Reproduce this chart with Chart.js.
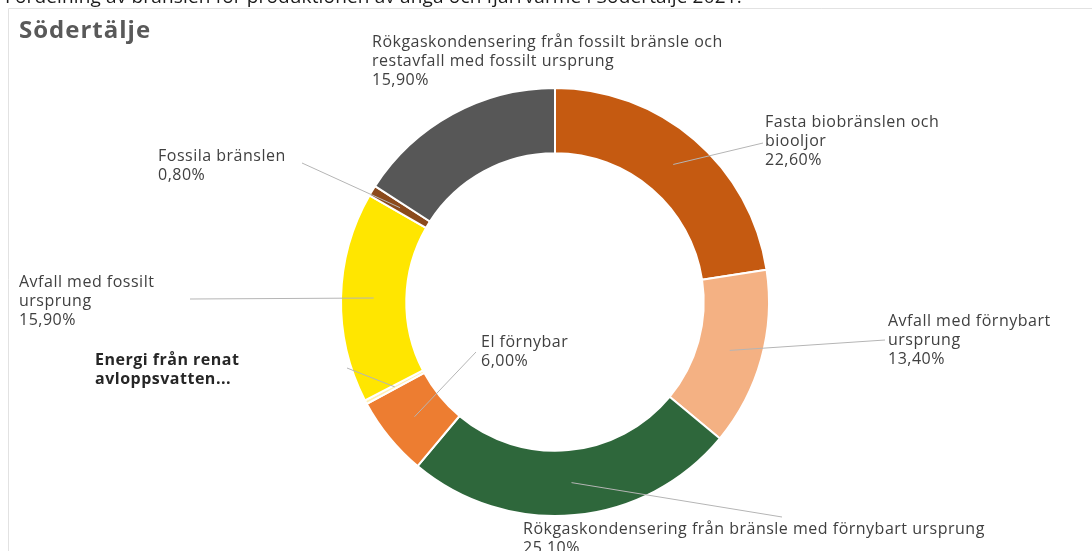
<!DOCTYPE html>
<html>
<head>
<meta charset="utf-8">
<script src="https://cdn.jsdelivr.net/npm/chart.js@4.4.0/dist/chart.umd.min.js"></script>
<style>
html,body{margin:0;padding:0;background:#fff;}
#wrap{position:relative;width:1092px;height:551px;overflow:hidden;}
canvas{display:block;}
</style>
</head>
<body>
<div id="wrap"><canvas id="c" width="1092" height="551"></canvas></div>
<script>
// ---- data ----
const pageTitle = 'Fördelning av bränslen för produktionen av ånga och fjärrvärme i Södertälje 2021.';
const chartTitle = 'Södertälje';
const categories = [
  'Fasta biobränslen och biooljor',
  'Avfall med förnybart ursprung',
  'Rökgaskondensering från bränsle med förnybart ursprung',
  'El förnybar',
  'Energi från renat avloppsvatten',
  'Avfall med fossilt ursprung',
  'Fossila bränslen',
  'Rökgaskondensering från fossilt bränsle och restavfall med fossilt ursprung'
];
const values = [22.6, 13.4, 25.1, 6.0, 0.3, 15.9, 0.8, 15.9];
const labelLines = [
  ['Fasta biobränslen och', 'biooljor'],
  ['Avfall med förnybart', 'ursprung'],
  ['Rökgaskondensering från bränsle med förnybart ursprung'],
  ['El förnybar'],
  ['Energi från renat', 'avloppsvatten...'],
  ['Avfall med fossilt', 'ursprung'],
  ['Fossila bränslen'],
  ['Rökgaskondensering från fossilt bränsle och', 'restavfall med fossilt ursprung']
];
const showValue = [true, true, true, true, false, true, true, true];

// ---- styles / layout ----
const colors = ['#C55A11', '#F4B183', '#2E673B', '#ED7D31', '#FFF0B3', '#FFE600', '#8B4A1C', '#575757'];
// label text anchor (left x, first line center y), bold flag, leader end point (null = no line)
const labelLayout = [
  {x: 765, y: 122, bold: false, end: [763, 143]},
  {x: 888, y: 321, bold: false, end: [885, 340]},
  {x: 523, y: 529, bold: false, end: [782, 517]},
  {x: 481, y: 342, bold: false, end: [476, 352]},
  {x: 95,  y: 360, bold: true,  end: [347, 368]},
  {x: 19,  y: 282, bold: false, end: [190, 299]},
  {x: 158, y: 156, bold: false, end: [302, 163]},
  {x: 372, y: 42,  bold: false, end: null}
];
const FONT = '"Open Sans", sans-serif';
const LINE_H = 19;

function fmt(v){ return v.toFixed(2).replace('.', ',') + '%'; }

const labelPlugin = {
  id: 'labels',
  afterDatasetsDraw(chart){
    const ctx = chart.ctx;
    const meta = chart.getDatasetMeta(0);
    ctx.save();
    ctx.strokeStyle = '#b5b5b5';
    ctx.lineWidth = 1;
    meta.data.forEach((arc, i) => {
      const L = labelLayout[i];
      if (!L.end) return;
      const p = arc.tooltipPosition();
      ctx.beginPath();
      ctx.moveTo(p.x, p.y);
      ctx.lineTo(L.end[0], L.end[1]);
      ctx.stroke();
    });
    ctx.restore();
  },
  afterDraw(chart){
    const ctx = chart.ctx;
    ctx.save();
    // panel frame
    ctx.strokeStyle = '#e2e2e2';
    ctx.lineWidth = 1;
    ctx.beginPath();
    ctx.moveTo(8.5, 551);
    ctx.lineTo(8.5, 8.5);
    ctx.lineTo(1092, 8.5);
    ctx.stroke();
    // clipped page title
    ctx.fillStyle = '#1a1a1a';
    ctx.font = '19px ' + FONT;
    ctx.letterSpacing = '0.15px';
    ctx.textBaseline = 'alphabetic';
    ctx.textAlign = 'left';
    ctx.fillText(pageTitle, 5, 3);
    // chart title
    ctx.fillStyle = '#595959';
    ctx.font = 'bold 24px ' + FONT;
    ctx.letterSpacing = '1px';
    ctx.textBaseline = 'middle';
    ctx.fillText(chartTitle, 19, 31);
    // labels
    ctx.letterSpacing = '0.5px';
    labelLines.forEach((lines, i) => {
      const L = labelLayout[i];
      const all = showValue[i] ? lines.concat([fmt(values[i])]) : lines;
      ctx.font = (L.bold ? 'bold ' : '') + '16px ' + FONT;
      ctx.fillStyle = L.bold ? '#262626' : '#404040';
      all.forEach((t, k) => ctx.fillText(t, L.x, L.y + k * LINE_H));
    });
    ctx.restore();
  }
};

new Chart(document.getElementById('c'), {
  type: 'doughnut',
  data: {
    labels: categories,
    datasets: [{
      data: values,
      backgroundColor: colors,
      borderColor: '#ffffff',
      borderWidth: 2
    }]
  },
  options: {
    responsive: false,
    animation: false,
    cutout: '69.5%',
    layout: {padding: {left: 340, right: 322, top: 87, bottom: 34}},
    plugins: {legend: {display: false}, tooltip: {enabled: false}, title: {display: false}}
  },
  plugins: [labelPlugin]
});
</script>
</body>
</html>
